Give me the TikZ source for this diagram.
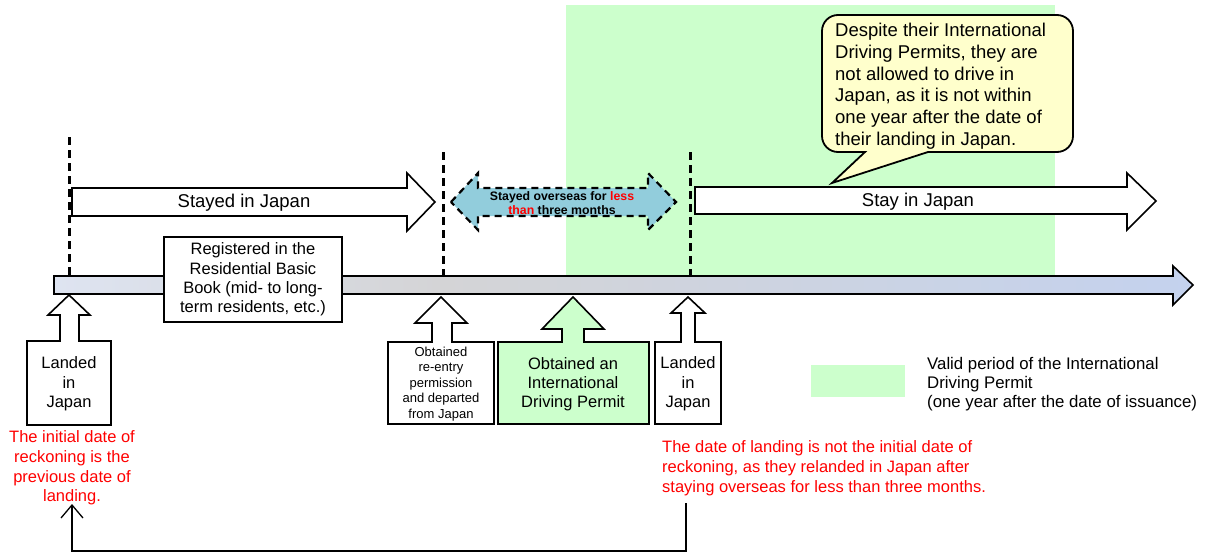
\documentclass[tikz,border=0pt]{standalone}
\usepackage{fontspec}
\setmainfont{Liberation Sans}
\usetikzlibrary{arrows.meta}
\definecolor{tlA}{RGB}{222,228,241}
\definecolor{tlB}{RGB}{212,212,214}
\definecolor{tlC}{RGB}{196,210,238}
\definecolor{ipgreen}{RGB}{204,255,204}
\definecolor{calloutfill}{RGB}{255,255,204}
\definecolor{oseablue}{RGB}{146,205,220}
\definecolor{redtxt}{RGB}{255,0,0}
\pgfdeclarehorizontalshading{tlshade}{100bp}{color(0bp)=(tlA); color(25bp)=(tlA); color(41.9bp)=(tlB); color(75bp)=(tlC); color(100bp)=(tlC)}
\tikzset{
  blockarrow/.style={draw=black, line width=1.6pt, fill=white, line join=miter},
  dashline/.style={draw=black, line width=3pt, dash pattern=on 8pt off 5pt},
  bigtxt/.style={font=\fontsize{18.5}{21.7}\selectfont, inner sep=0pt, align=center},
  midtxt/.style={font=\fontsize{16.5}{19.6}\selectfont, inner sep=0pt, align=center},
  smalltxt/.style={font=\fontsize{13}{15.5}\selectfont, inner sep=0pt, align=center},
  redtext/.style={font=\fontsize{16.5}{19.8}\selectfont, inner sep=0pt, text=redtxt},
  conn/.style={draw=black, line width=1.3pt, -{Straight Barb[length=13pt,width=22pt,line width=1.3pt]}}
}
\begin{document}
\begin{tikzpicture}[x=1pt,y=-1pt]
\useasboundingbox (0,0) rectangle (1207,554);
% valid period
\fill[ipgreen] (566,5) rectangle (1055,275);
% timeline
\draw[line width=1.6pt, shading=tlshade] (54,276) -- (1173,276) -- (1173,266) -- (1193,285) -- (1173,305) -- (1173,294) -- (54,294) -- cycle;
% stayed in Japan
\draw[blockarrow] (72,188) -- (407,188) -- (407,173) -- (435,202) -- (407,231) -- (407,216) -- (72,216) -- cycle;
\node[bigtxt] (stayed) at (244,203) {Stayed in Japan};
% stay in Japan
\draw[blockarrow] (695,187) -- (1127,187) -- (1127,173) -- (1156,201) -- (1127,230) -- (1127,214) -- (695,214) -- cycle;
\node[bigtxt] (stay) at (918,202) {Stay in Japan};
% overseas double arrow
\draw[fill=oseablue, line width=2.2pt, dash pattern=on 7pt off 5pt] (451,202) -- (478,173) -- (478,188) -- (648,188) -- (648,173) -- (676,202) -- (648,230) -- (648,216) -- (478,216) -- (478,230) -- cycle;
\node[font=\fontsize{12.3}{14}\selectfont\bfseries, inner sep=0pt, align=center] (oversea) at (562,203) {Stayed overseas for \textcolor{redtxt}{less}\\\textcolor{redtxt}{than} three months};
% dashed lines
\draw[dashline] (69,137) -- (69,275);
\draw[dashline] (443,152) -- (443,275);
\draw[dashline] (690,152) -- (690,275);
% registered box
\node[draw, line width=1.6pt, fill=white, minimum width=178pt, minimum height=85pt, inner sep=0pt, font=\fontsize{16.5}{19.3}\selectfont, align=center] (reg) at (253,279.5) {Registered in the\\Residential Basic\\Book (mid- to long-\\term residents, etc.)};
% left landed
\draw[blockarrow] (69,295) -- (90,315) -- (79,315) -- (79,341) -- (111,341) -- (111,425) -- (27,425) -- (27,341) -- (60,341) -- (60,315) -- (48,315) -- cycle;
\node[midtxt] (land1) at (69,384) {Landed\\in\\Japan};
% re-entry
\draw[blockarrow] (441,297) -- (467,323) -- (452,323) -- (452,342) -- (494,342) -- (494,424) -- (388,424) -- (388,342) -- (432,342) -- (432,323) -- (415,323) -- cycle;
\node[smalltxt] (reentry) at (441,384) {Obtained\\re-entry\\permission\\and departed\\from Japan};
% IDP
\draw[blockarrow, fill=ipgreen] (573,297) -- (604,329) -- (584,329) -- (584,342) -- (649,342) -- (649,424) -- (498,424) -- (498,342) -- (562,342) -- (562,329) -- (542,329) -- cycle;
\node[font=\fontsize{16.5}{18.8}\selectfont, inner sep=0pt, align=center] (idp) at (573,384) {Obtained an\\International\\Driving Permit};
% right landed
\draw[blockarrow] (688,297) -- (705,313) -- (695,313) -- (695,342) -- (721,342) -- (721,424) -- (655,424) -- (655,342) -- (681,342) -- (681,313) -- (671,313) -- cycle;
\node[midtxt] (land2) at (688,384) {Landed\\in\\Japan};
% callout
\draw[line width=1.8pt, fill=calloutfill, line join=miter] (865,152) -- (832,183) -- (928,152) [rounded corners=16pt] -- (1073,152) -- (1073,15) -- (822,15) -- (822,152) [sharp corners] -- cycle;
\node[font=\fontsize{18.5}{21.7}\selectfont, inner sep=0pt, align=left, anchor=north west] (callout) at (835,23) {Despite their International\\Driving Permits, they are\\not allowed to drive in\\Japan, as it is not within\\one year after the date of\\their landing in Japan.};
% legend
\fill[ipgreen] (811,365) rectangle (905,397);
\node[font=\fontsize{16.8}{19}\selectfont, inner sep=0pt, align=left, anchor=west] (legend) at (927,384) {Valid period of the International\\Driving Permit\\(one year after the date of issuance)};
% red notes
\node[redtext, align=center] (red1) at (72,468) {The initial date of\\reckoning is the\\previous date of\\landing.};
\node[redtext, align=left, anchor=west] (red2) at (662,468) {The date of landing is not the initial date of\\reckoning, as they relanded in Japan after\\staying overseas for less than three months.};
% connector
\coordinate (cs) at (686,503);
\coordinate (ce) at (72,504);
\draw[conn] (cs) -- (686,551) -| (ce);
\end{tikzpicture}
\end{document}
